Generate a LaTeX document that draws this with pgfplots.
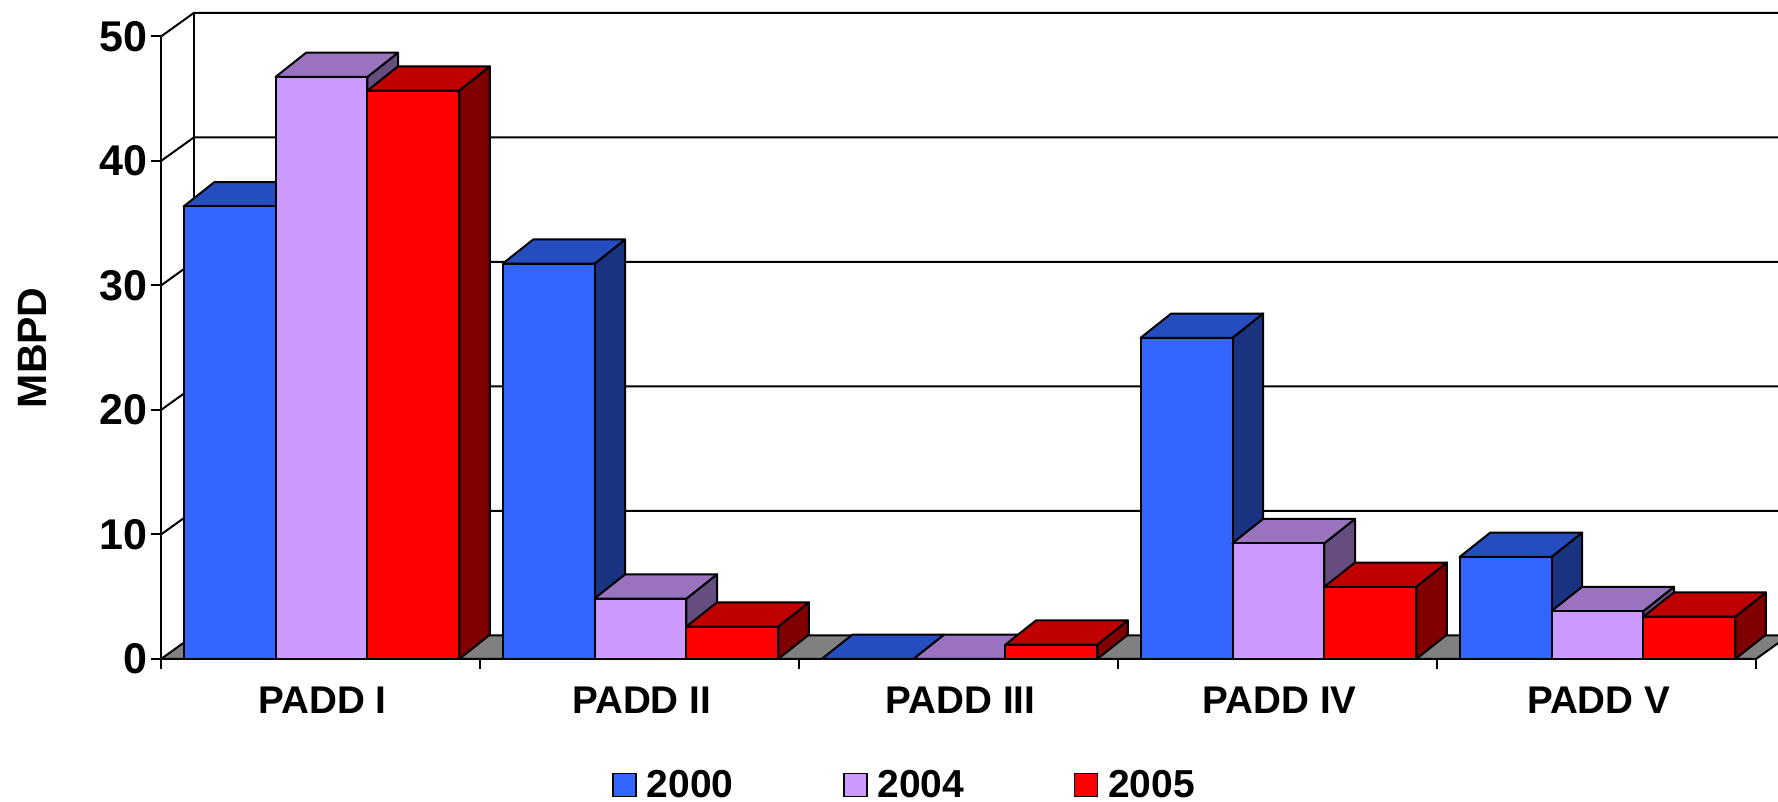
\documentclass[border=0pt]{standalone}
\usepackage{fontspec}
\setmainfont{Liberation Sans}
\usepackage{pgfplots}
\pgfplotsset{compat=1.18}

% Face colours: front, top, side of each series
\definecolor{frontA}{HTML}{3366FF}\definecolor{topA}{HTML}{264DBF}\definecolor{sideA}{HTML}{1A3380}
\definecolor{frontB}{HTML}{CC99FF}\definecolor{topB}{HTML}{9973BF}\definecolor{sideB}{HTML}{664D80}
\definecolor{frontC}{HTML}{FF0000}\definecolor{topC}{HTML}{BF0000}\definecolor{sideC}{HTML}{800000}

% Square key for the legend
\pgfplotsset{square key/.style={legend image code/.code={\draw[##1] (0pt,-5.75pt) rectangle (11.5pt,5.75pt);}}}

% Depth of the walls and of the bars, in axis units
\def\walldx{0.1034}\def\walldy{1.9}
\def\bardx{0.096}\def\bardy{1.95}
\def\barw{0.288}\def\baroff{0.071}
\def\lw{1pt}

% One bar: category, slot within the group, value, series letter
\newcommand{\solidbar}[4]{%
  \pgfmathsetmacro\xa{#1+\baroff+#2*\barw}%
  \pgfmathsetmacro\xb{\xa+\barw}%
  \pgfmathsetmacro\xc{\xa+\bardx}%
  \pgfmathsetmacro\xd{\xb+\bardx}%
  \pgfmathsetmacro\yb{#3+\bardy}%
  \addplot[forget plot,draw=black,line width=\lw,line join=round,fill=side#4]
    coordinates {(\xb,0) (\xd,\bardy) (\xd,\yb) (\xb,#3)} -- cycle;
  \addplot[forget plot,draw=black,line width=\lw,line join=round,fill=top#4]
    coordinates {(\xa,#3) (\xc,\yb) (\xd,\yb) (\xb,#3)} -- cycle;
  \addplot[forget plot,draw=black,line width=\lw,line join=round,fill=front#4]
    coordinates {(\xa,0) (\xa,#3) (\xb,#3) (\xb,0)} -- cycle;
}
% One wall rule: the diagonal on the left wall and the line along the back wall
\newcommand{\wallrule}[1]{%
  \pgfmathsetmacro\yw{#1+\walldy}%
  \pgfmathsetmacro\xw{5+\walldx}%
  \addplot[forget plot,draw=black,line width=\lw]
    coordinates {(0,#1) (\walldx,\yw) (\xw,\yw)};
}

\begin{document}
\begin{tikzpicture}[x=1pt,y=1pt]
\useasboundingbox (0,0) rectangle (889,401);
\clip (0,0) rectangle (889,401);
\begin{axis}[
  at={(80.5pt,71.5pt)},anchor=south west,
  scale only axis,width=797.5pt,height=311.25pt,
  xmin=0,xmax=5,ymin=0,ymax=50,
  clip=false,
  axis lines=left,
  axis line style={-,line width=\lw,black},
  tick align=outside,
  tick style={black,line width=\lw},
  major tick length=5pt,
  minor tick length=5pt,
  xtick={0.5,1.5,2.5,3.5,4.5},
  xticklabels={PADD I,PADD II,PADD III,PADD IV,PADD V},
  major x tick style={draw=none},
  minor xtick={0,1,2,3,4,5},
  ytick={0,10,20,30,40,50},
  x tick label style={font=\fontsize{19.3}{21}\selectfont\bfseries,yshift=-5.5pt,xshift=1.1pt},
  y tick label style={font=\fontsize{21.5}{23}\selectfont\bfseries,xshift=1.5pt},
  /pgf/number format/assume math mode=true,
  ylabel={MBPD},
  every axis y label/.style={at={(axis description cs:-0.0806,0.5)},rotate=90,anchor=center,
    font=\fontsize{20.5}{22}\selectfont\bfseries},
  legend columns=3,
  legend cell align=left,
  legend style={
    at={(axis description cs:0.283,-0.2023)},anchor=west,
    draw=none,fill=none,inner sep=0pt,outer sep=0pt,
    font=\fontsize{19.5}{21}\selectfont\bfseries,
    /tikz/every odd column/.append style={column sep=3pt},
    /tikz/every even column/.append style={column sep=52.7pt},
  },
]
% Floor and walls
\addplot[forget plot,draw=black,line width=\lw,fill=black!50]
  coordinates {(0,0) (\walldx,\walldy) (5.1034,\walldy) (5,0)} -- cycle;
\addplot[forget plot,draw=black,line width=\lw]
  coordinates {(\walldx,\walldy) (\walldx,51.9)};
\wallrule{10}
\wallrule{20}
\wallrule{30}
\wallrule{40}
\wallrule{50}

% PADD I
\solidbar{0}{0}{36.35}{A}
\solidbar{0}{1}{46.75}{B}
\solidbar{0}{2}{45.65}{C}
% PADD II
\solidbar{1}{0}{31.75}{A}
\solidbar{1}{1}{4.85}{B}
\solidbar{1}{2}{2.6}{C}
% PADD III
\solidbar{2}{0}{0}{A}
\solidbar{2}{1}{0}{B}
\solidbar{2}{2}{1.15}{C}
% PADD IV
\solidbar{3}{0}{25.8}{A}
\solidbar{3}{1}{9.3}{B}
\solidbar{3}{2}{5.8}{C}
% PADD V
\solidbar{4}{0}{8.2}{A}
\solidbar{4}{1}{3.85}{B}
\solidbar{4}{2}{3.4}{C}

\addlegendimage{square key,draw=black,line width=.75pt,fill=frontA}
\addlegendentry{2000}
\addlegendimage{square key,draw=black,line width=.75pt,fill=frontB}
\addlegendentry{2004}
\addlegendimage{square key,draw=black,line width=.75pt,fill=frontC}
\addlegendentry{2005}
\end{axis}
\end{tikzpicture}
\end{document}
